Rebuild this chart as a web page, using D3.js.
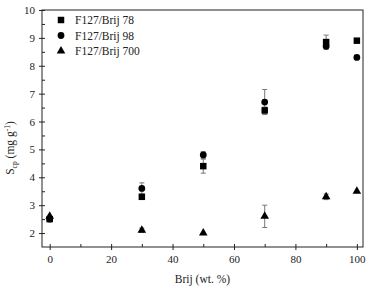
<!DOCTYPE html>
<html><head><meta charset="utf-8">
<script src="https://cdn.jsdelivr.net/npm/d3@7"></script>
<style>body{margin:0;background:#fff}svg{display:block}svg text{font-family:"Liberation Serif","Times New Roman",serif}</style>
</head><body>
<script>
const xVals = [0, 30, 50, 70, 90, 100];
const brij78 = [2.5, 3.3, 4.4, 6.4, 8.85, 8.9];
const brij78Err = [0, 0, 0.25, 0.12, 0.25, 0];
const brij98 = [2.5, 3.6, 4.8, 6.7, 8.7, 8.3];
const brij98Err = [0, 0.2, 0.12, 0.45, 0.1, 0];
const brij700 = [2.6, 2.1, 2.0, 2.6, 3.3, 3.5];
const brij700Err = [0, 0.08, 0, 0.4, 0.1, 0];
const seriesNames = ["F127/Brij 78", "F127/Brij 98", "F127/Brij 700"];
const xTicks = [0, 20, 40, 60, 80, 100];
const yTicks = [2, 3, 4, 5, 6, 7, 8, 9, 10];

const W = 371, H = 288;
const m = {l: 42, r: 8, t: 10, b: 41};
const svg = d3.select("body").append("svg").attr("width", W).attr("height", H);
const x = d3.scaleLinear().domain([-2.5, 102]).range([m.l, W - m.r]);
const y = d3.scaleLinear().domain([1.5, 10]).range([H - m.b, m.t]);

// frame
svg.append("rect").attr("x", m.l).attr("y", m.t).attr("width", W - m.r - m.l).attr("height", H - m.b - m.t)
  .attr("fill", "none").attr("stroke", "#222").attr("stroke-width", 1);

// axes
const xAxis = svg.append("g").attr("transform", `translate(0,${H - m.b})`)
  .call(d3.axisBottom(x).tickValues(xTicks).tickSize(3).tickSizeOuter(0));
const xMinor = svg.append("g").attr("transform", `translate(0,${H - m.b})`)
  .call(d3.axisTop(x).tickValues([10, 30, 50, 70, 90]).tickSize(3).tickFormat(""));
const yAxis = svg.append("g").attr("transform", `translate(${m.l},0)`)
  .call(d3.axisLeft(y).tickValues(yTicks).tickSize(3).tickSizeOuter(0));
const yMinor = svg.append("g").attr("transform", `translate(${m.l},0)`)
  .call(d3.axisRight(y).tickValues(d3.range(2.5, 10, 1)).tickSize(3).tickFormat(""));
const xAxisIn = svg.append("g").attr("transform", `translate(0,${H - m.b})`)
  .call(d3.axisTop(x).tickValues(xTicks).tickSize(3).tickFormat(""));
const yAxisIn = svg.append("g").attr("transform", `translate(${m.l},0)`)
  .call(d3.axisRight(y).tickValues(yTicks).tickSize(3).tickFormat(""));
[xAxis, xMinor, yAxis, yMinor, xAxisIn, yAxisIn].forEach(g => {
  g.select(".domain").remove();
  g.attr("font-family", null);
  g.selectAll("line").attr("stroke", "#222");
  g.selectAll("text").attr("font-size", 11).attr("fill", "#222");
});
xAxis.selectAll("text").attr("dy", "0.95em");
yAxis.selectAll("text").attr("dx", "-0.1em");

// labels
svg.append("text").attr("x", (m.l + W - m.r) / 2).attr("y", 283).attr("text-anchor", "middle")
  .attr("font-size", 11.5).attr("fill", "#222").text("Brij (wt. %)");
const yl = svg.append("text").attr("transform", "translate(14,148) rotate(-90)").attr("text-anchor", "middle")
  .attr("font-size", 11.5).attr("fill", "#222");
yl.append("tspan").text("S");
yl.append("tspan").attr("font-size", 7.5).attr("dy", 3).text("cp");
yl.append("tspan").attr("dy", -3).text(" (mg g");
yl.append("tspan").attr("font-size", 7.5).attr("dy", -4).text("-1");
yl.append("tspan").attr("dy", 4).text(")");

const shapes = [d3.symbolSquare, d3.symbolCircle, d3.symbolTriangle];
const sizes = [42, 36, 32];
const data = [[brij78, brij78Err], [brij98, brij98Err], [brij700, brij700Err]];

// error bars
data.forEach(([vals, errs]) => {
  const g = svg.append("g").attr("stroke", "#777").attr("stroke-width", 1);
  xVals.forEach((xv, i) => {
    if (!errs[i]) return;
    const cx = x(xv), y1 = y(vals[i] + errs[i]), y2 = y(vals[i] - errs[i]);
    g.append("line").attr("x1", cx).attr("x2", cx).attr("y1", y1).attr("y2", y2);
    g.append("line").attr("x1", cx - 2.5).attr("x2", cx + 2.5).attr("y1", y1).attr("y2", y1);
    g.append("line").attr("x1", cx - 2.5).attr("x2", cx + 2.5).attr("y1", y2).attr("y2", y2);
  });
});
// markers
data.forEach(([vals], s) => {
  svg.append("g").selectAll("path").data(xVals).join("path")
    .attr("transform", (d, i) => `translate(${x(d)},${y(vals[i])})`)
    .attr("d", d3.symbol().type(shapes[s]).size(sizes[s])).attr("fill", "#000");
});

// legend
seriesNames.forEach((name, i) => {
  const ly = 20 + i * 15.5;
  svg.append("path").attr("transform", `translate(61,${ly})`)
    .attr("d", d3.symbol().type(shapes[i]).size(sizes[i])).attr("fill", "#000");
  svg.append("text").attr("x", 75).attr("y", ly + 4).attr("font-size", 11.5)
    .attr("fill", "#222").text(name);
});
</script>
</body></html>
